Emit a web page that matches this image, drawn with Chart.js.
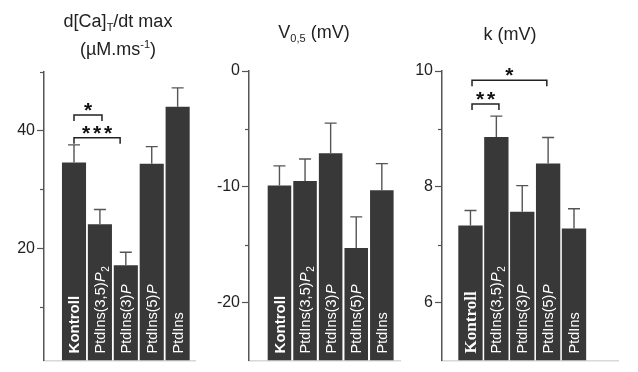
<!DOCTYPE html>
<html>
<head>
<meta charset="utf-8">
<script src="https://cdn.jsdelivr.net/npm/chart.js@4.4.1/dist/chart.umd.min.js"></script>
<style>
  body { margin: 0; background: #fff; }
  #wrap { position: relative; width: 638px; height: 372px; overflow: hidden; font-family: "Liberation Sans", Arial, sans-serif; color: #222; }
  canvas { position: absolute; top: 0; }
  .ttl { position: absolute; font-size: 18px; line-height: 20px; text-align: center; white-space: nowrap; }
  .ttl sub { font-size: 11px; vertical-align: -4px; line-height: 0; }
  .ttl sup { font-size: 11px; vertical-align: 7px; line-height: 0; }
</style>
</head>
<body>
<div id="wrap">
  <canvas id="c1" width="200" height="372" style="left:0px"></canvas>
  <canvas id="c2" width="200" height="372" style="left:205px"></canvas>
  <canvas id="c3" width="238" height="372" style="left:400px"></canvas>
  <div class="ttl" style="left:58px;width:120px;top:11px">d[Ca]<sub>T</sub>/dt max</div>
  <div class="ttl" style="left:58px;width:120px;top:39px">(µM.ms<sup>-1</sup>)</div>
  <div class="ttl" style="left:254px;width:120px;top:22px">V<sub>0,5</sub> (mV)</div>
  <div class="ttl" style="left:450px;width:120px;top:24px">k (mV)</div>
</div>
<script>
const categories = ['Kontroll', 'PtdIns(3,5)P2', 'PtdIns(3)P', 'PtdIns(5)P', 'PtdIns'];

// d[Ca]T/dt max (µM/ms): mean and top of error bar
const caRate = [34.6, 24.1, 17.1, 34.4, 44.1];
const caRateErr = [37.6, 26.6, 19.3, 37.3, 47.3];
const caTicks = [10, 20, 30, 40, 50];
const caTickLabels = [20, 40];

// V0,5 (mV)
const v05 = [-9.9, -9.5, -7.1, -15.3, -10.3];
const v05Err = [-8.2, -7.6, -4.5, -12.6, -8.0];
const v05Ticks = [0, -5, -10, -15, -20];
const v05TickLabels = [0, -10, -20];

// k (mV)
const kSlope = [7.33, 8.86, 7.57, 8.40, 7.28];
const kSlopeErr = [7.59, 9.22, 8.02, 8.85, 7.62];
const kTicks = [6, 7, 8, 9, 10];
const kTickLabels = [6, 8, 10];

// significance brackets (x in bar index units, y in data units)
const caSig = [
  { from: 0, to: 1.08, y: 42.7, stars: '*' },
  { from: 0, to: 1.78, y: 38.8, stars: '***' }
];
const kSig = [
  { from: 0.06, to: 1.1, y: 9.43, stars: '**' },
  { from: 0.06, to: 2.95, y: 9.84, stars: '*' }
];

Chart.defaults.font.family = '"Liberation Sans", Arial, sans-serif';
Chart.defaults.animation = false;

const barColor = '#383838';

// error bars, labels inside the bars, minor ticks and significance brackets
const decorPlugin = {
  id: 'decor',
  afterDatasetsDraw(chart, args, opts) {
    const ctx = chart.ctx;
    const xs = chart.scales.x, ys = chart.scales.y;
    const area = chart.chartArea;
    const vals = chart.data.datasets[0].data;

    // error bars
    ctx.save();
    ctx.strokeStyle = '#555';
    ctx.lineWidth = 1.4;
    vals.forEach((p, i) => {
      const x = xs.getPixelForValue(p.x);
      const y0 = ys.getPixelForValue(p.y);
      const y1 = ys.getPixelForValue(opts.err[i]);
      ctx.beginPath();
      ctx.moveTo(x, y0); ctx.lineTo(x, y1);
      ctx.moveTo(x - 6, y1); ctx.lineTo(x + 6, y1);
      ctx.stroke();
    });
    ctx.restore();

    // labels
    vals.forEach((p, i) => {
      const x = xs.getPixelForValue(p.x);
      drawLabel(ctx, categories[i], x, area.bottom - 7, opts.firstFont);
    });

    // minor ticks
    ctx.save();
    ctx.strokeStyle = '#555';
    ctx.lineWidth = 1.2;
    opts.ticks.forEach(v => {
      if (opts.labels.includes(v)) return;
      const y = Math.round(ys.getPixelForValue(v)) + 0.5;
      ctx.beginPath();
      ctx.moveTo(area.left - 4, y); ctx.lineTo(area.left, y);
      ctx.stroke();
    });
    ctx.restore();

    // brackets
    ctx.save();
    ctx.strokeStyle = '#222';
    ctx.lineWidth = 1.5;
    ctx.fillStyle = '#111';
    ctx.font = 'bold 21px "Liberation Sans", Arial, sans-serif';
    ctx.textAlign = 'center';
    ctx.textBaseline = 'alphabetic';
    (opts.sig || []).forEach(s => {
      const xa = xs.getPixelForValue(s.from);
      const xb = xs.getPixelForValue(s.to);
      const y = ys.getPixelForValue(s.y);
      ctx.beginPath();
      ctx.moveTo(xa, y + 6); ctx.lineTo(xa, y); ctx.lineTo(xb, y); ctx.lineTo(xb, y + 6);
      ctx.stroke();
      const mid = (xa + xb) / 2;
      const n = s.stars.length;
      for (let k = 0; k < n; k++) {
        ctx.fillText('*', mid + (k - (n - 1) / 2) * 11, y + 2);
      }
    });
    ctx.restore();
  }
};

function drawLabel(ctx, text, x, y, firstFont) {
  ctx.save();
  ctx.translate(x, y);
  ctx.rotate(-Math.PI / 2);
  ctx.fillStyle = '#fff';
  ctx.textAlign = 'left';
  ctx.textBaseline = 'middle';
  const fam = '"Liberation Sans", Arial, sans-serif';
  let parts;
  const m = text.match(/^(.*\))P(\d?)$/);
  if (text === 'Kontroll') {
    parts = [[text, firstFont, 0]];
  } else if (m) {
    parts = [[m[1], '14.5px ' + fam, 0], ['P', 'italic 14.5px ' + fam, 0]];
    if (m[2]) parts.push([m[2], '10px ' + fam, 5]);
  } else {
    parts = [[text, '14.5px ' + fam, 0]];
  }
  let pos = 0;
  parts.forEach(([t, f, dy]) => {
    ctx.font = f;
    ctx.fillText(t, pos, dy + 1);
    pos += ctx.measureText(t).width + (dy ? 0 : 0.5);
  });
  ctx.restore();
}

function makePanel(id, values, err, ticks, labels, yMin, yMax, xMin, xMax, axisW, pad, barPct, firstFont, sig) {
  new Chart(document.getElementById(id), {
    type: 'bar',
    data: {
      datasets: [{
        data: values.map((v, i) => ({ x: i, y: v })),
        backgroundColor: barColor,
        borderWidth: 0,
        base: yMin,
        barPercentage: barPct,
        categoryPercentage: 1
      }]
    },
    options: {
      responsive: false,
      maintainAspectRatio: false,
      layout: { padding: pad },
      plugins: {
        legend: { display: false },
        tooltip: { enabled: false },
        decor: { err: err, ticks: ticks, labels: labels, firstFont: firstFont, sig: sig }
      },
      scales: {
        x: {
          type: 'linear',
          offset: false,
          min: xMin,
          max: xMax,
          grid: { display: false, drawTicks: false },
          ticks: { display: false },
          border: { display: true, color: '#d8d8d8', width: 1.5 },
          afterFit: s => { s.height = 0; }
        },
        y: {
          min: yMin,
          max: yMax,
          afterBuildTicks: s => { s.ticks = ticks.map(v => ({ value: v })); },
          afterFit: s => { s.width = axisW; },
          grid: {
            drawOnChartArea: false,
            tickLength: 7,
            tickWidth: 1.2,
            tickColor: c => (c.tick && labels.includes(c.tick.value)) ? '#555' : 'rgba(0,0,0,0)'
          },
          border: { display: true, color: '#555', width: 1.5 },
          ticks: {
            padding: 2,
            color: '#222',
            font: { size: 16 },
            callback: v => labels.includes(v) ? String(v) : ''
          }
        }
      }
    },
    plugins: [decorPlugin]
  });
}

const sansBold = 'bold 15px "Liberation Sans", Arial, sans-serif';
makePanel('c1', caRate, caRateErr, caTicks, caTickLabels, 0.9, 50, -1.158, 4.67, 44,
  { top: 72, bottom: 11, left: 0, right: 5 }, 0.93, sansBold, caSig);
makePanel('c2', v05, v05Err, v05Ticks, v05TickLabels, -25, 0, -1.19, 4.71, 44,
  { top: 71, bottom: 11, left: 0, right: 5 }, 0.92, sansBold, []);
makePanel('c3', kSlope, kSlopeErr, kTicks, kTickLabels, 5, 10, -1.10, 5.70, 42,
  { top: 71, bottom: 11, left: 0, right: 20 }, 0.94, 'bold 17px "Liberation Serif", "Times New Roman", serif', kSig);
</script>
</body>
</html>
